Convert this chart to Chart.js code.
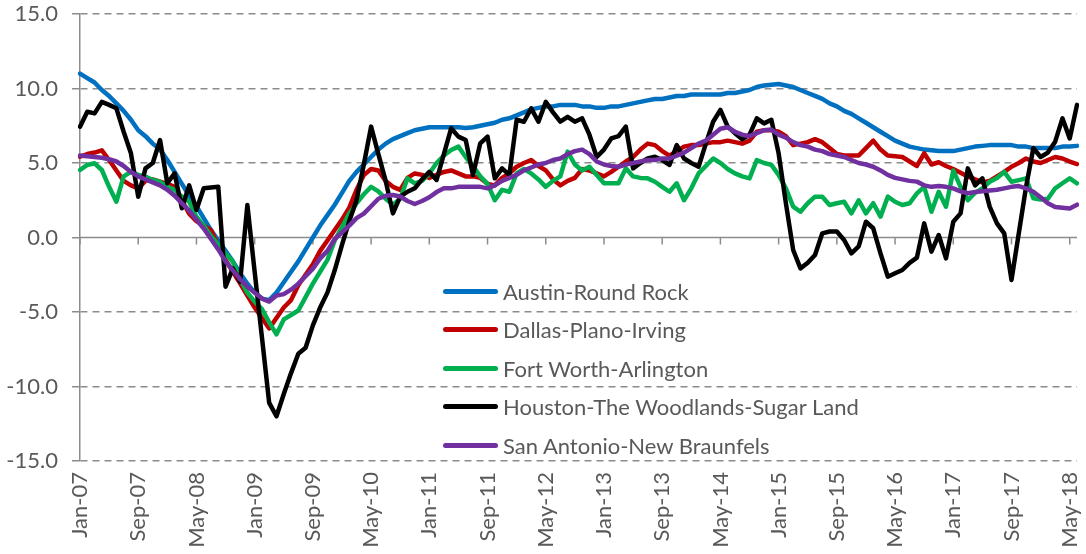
<!DOCTYPE html>
<html>
<head>
<meta charset="utf-8">
<script src="https://cdn.jsdelivr.net/npm/chart.js@4.4.1/dist/chart.umd.min.js"></script>
<style>
  html, body { margin: 0; padding: 0; background: #fff; }
  #wrap { position: relative; width: 1086px; height: 554px; }
  #legend { position: absolute; left: 443px; top: 272px; font-family: Lato, sans-serif; font-size: 22px; color: #595959; }
  .item { display: flex; align-items: center; height: 38.5px; white-space: nowrap; }
  .swatch { width: 55px; height: 5px; border-radius: 3px; margin-right: 5px; }
</style>
</head>
<body>
<div id="wrap">
  <canvas id="chart" width="1086" height="554"></canvas>
  <div id="legend"></div>
</div>
<script>
// monthly categories Jan-07 .. Jun-18
const monthNames = ['Jan', 'Feb', 'Mar', 'Apr', 'May', 'Jun', 'Jul', 'Aug', 'Sep', 'Oct', 'Nov', 'Dec'];
const months = [];
for (let y = 7; y <= 18; y++) {
  for (const m of monthNames) {
    if (months.length < 138) months.push(`${m}-${String(y).padStart(2, '0')}`);
  }
}

const yTicks = [-15, -10, -5, 0, 5, 10, 15];

const austin = [
  11.0, 10.7, 10.4, 9.9, 9.5, 9.0, 8.5, 7.9, 7.2, 6.8,
  6.3, 5.9, 5.2, 4.4, 3.6, 2.8, 2.1, 1.3, 0.5, -0.2,
  -0.9, -1.6, -2.4, -3.1, -3.7, -4.1, -4.2, -3.7, -3.0, -2.3,
  -1.6, -0.8, 0.0, 0.8, 1.5, 2.2, 3.0, 3.8, 4.4, 4.9,
  5.4, 5.9, 6.3, 6.6, 6.8, 7.0, 7.2, 7.3, 7.4, 7.4,
  7.4, 7.4, 7.4, 7.35, 7.4, 7.5, 7.6, 7.7, 7.9, 8.0,
  8.2, 8.4, 8.6, 8.7, 8.8, 8.8, 8.9, 8.9, 8.9, 8.8,
  8.8, 8.7, 8.7, 8.8, 8.8, 8.9, 9.0, 9.1, 9.2, 9.3,
  9.3, 9.4, 9.5, 9.5, 9.6, 9.6, 9.6, 9.6, 9.6, 9.7,
  9.7, 9.8, 9.9, 10.1, 10.2, 10.25, 10.3, 10.2, 10.1, 9.9,
  9.7, 9.5, 9.3, 9.0, 8.8, 8.5, 8.3, 8.0, 7.7, 7.4,
  7.1, 6.8, 6.5, 6.3, 6.1, 6.0, 5.9, 5.85, 5.8, 5.8,
  5.8, 5.9, 6.0, 6.1, 6.15, 6.2, 6.2, 6.2, 6.2, 6.1,
  6.1, 6.0, 6.0, 6.0, 6.0, 6.1, 6.1, 6.15
];

const dallas = [
  5.42, 5.6, 5.7, 5.85, 5.2, 4.5, 3.8, 3.5, 3.3, 3.8,
  3.9, 3.75, 3.6, 3.4, 2.5, 1.6, 1.1, 0.8, 0.5, -0.6,
  -1.5, -2.3, -3.07, -3.9, -4.7, -5.4, -6.1, -5.4, -4.7, -4.2,
  -3.2, -2.5, -1.8, -0.9, -0.2, 0.5, 1.2, 2.0, 3.2, 4.2,
  4.6, 4.5, 3.8, 3.4, 3.2, 4.0, 4.3, 4.2, 4.0, 4.2,
  4.4, 4.5, 4.3, 4.1, 4.1, 4.0, 3.6, 3.5, 4.0, 4.3,
  4.75, 5.0, 5.2, 4.8, 4.5, 3.9, 3.5, 3.8, 4.0, 4.6,
  4.5, 4.3, 4.1, 4.4, 4.75, 5.1, 5.4, 5.9, 6.3, 6.2,
  5.8, 5.5, 5.8, 6.1, 6.2, 6.2, 6.3, 6.4, 6.4, 6.5,
  6.4, 6.3, 6.5, 7.1, 7.2, 7.2, 7.1, 6.8, 6.2, 6.3,
  6.4, 6.6, 6.4, 6.0, 5.6, 5.5, 5.5, 5.5, 6.0, 6.5,
  5.9, 5.5, 5.45, 5.4, 5.1, 4.8, 5.65, 4.9, 5.05, 4.8,
  4.6, 4.35, 4.1, 3.9, 3.7, 3.8, 4.1, 4.4, 4.75, 5.0,
  5.3, 5.1, 5.0, 5.2, 5.4, 5.3, 5.1, 4.93
];

const fortWorth = [
  4.53, 4.87, 4.98, 4.53, 3.4, 2.4, 4.1, 4.4, 4.2, 4.1,
  3.86, 3.74, 3.4, 3.2, 2.74, 2.4, 1.4, 0.8, 0.1, -0.5,
  -1.1, -1.6, -2.8, -3.7, -4.3, -4.8, -5.7, -6.5, -5.5, -5.2,
  -4.9, -4.0, -3.1, -2.3, -1.5, -0.2, 0.7, 1.6, 2.3, 2.9,
  3.4, 3.1, 2.6, 2.2, 2.6, 3.97, 3.64, 3.8, 4.3, 5.0,
  5.5, 5.87, 6.1, 5.4, 4.8, 4.1, 3.6, 2.5, 3.2, 3.07,
  4.3, 4.6, 4.3, 3.9, 3.4, 3.8, 4.1, 5.76, 4.9, 4.5,
  4.75, 4.2, 3.64, 3.64, 3.64, 4.64, 4.1, 4.0, 3.97, 3.74,
  3.4, 3.07, 3.64, 2.5, 3.3, 4.3, 4.8, 5.3, 5.0, 4.6,
  4.3, 4.1, 3.97, 5.2, 5.0, 4.87, 4.2, 3.3, 2.07, 1.73,
  2.3, 2.74, 2.74, 2.18, 2.3, 2.4, 1.62, 2.5, 1.62, 2.3,
  1.4, 2.74, 2.4, 2.18, 2.3, 2.96, 3.4, 1.73, 3.07, 2.07,
  4.5, 3.4, 2.5, 3.0, 3.3, 3.74, 4.0, 4.4, 3.74, 3.85,
  3.97, 2.63, 2.55, 2.6, 3.3, 3.64, 3.97, 3.64
];

const houston = [
  7.44, 8.44, 8.33, 9.1, 8.9, 8.67, 7.1, 5.65, 2.74, 4.64,
  5.0, 6.54, 3.64, 4.3, 1.96, 3.5, 1.85, 3.3, 3.35, 3.4,
  -3.3, -2.07, -2.97, 2.18, -2.3, -6.7, -11.1, -12.0, -10.5, -9.1,
  -7.8, -7.4, -5.9, -4.7, -3.7, -2.2, -0.5, 1.1, 2.5, 4.9,
  7.44, 5.6, 3.8, 1.62, 2.74, 3.07, 3.3, 3.9, 4.4, 3.86,
  5.6, 7.33, 6.77, 6.54, 4.2, 6.32, 6.77, 3.97, 4.64, 4.2,
  7.9, 7.77, 8.67, 7.77, 9.1, 8.4, 7.77, 8.1, 7.77, 8.0,
  6.9, 5.4, 5.9, 6.65, 6.8, 7.44, 4.64, 5.0, 5.3, 5.42,
  5.2, 4.87, 6.2, 5.3, 5.0, 4.75, 6.3, 7.77, 8.56, 7.44,
  7.0, 6.6, 6.9, 8.0, 7.66, 7.9, 5.65, 2.3, -0.84, -2.07,
  -1.7, -1.17, 0.28, 0.4, 0.4, -0.17, -1.06, -0.6, 1.06, 0.62,
  -1.06, -2.63, -2.4, -2.18, -1.7, -1.35, 0.95, -0.95, 0.17, -1.4,
  1.06, 1.62, 4.64, 3.5, 3.97, 2.07, 0.95, 0.28, -2.85, 0.28,
  3.4, 6.0, 5.4, 5.7, 6.43, 8.0, 6.65, 8.9
];

const sanAntonio = [
  5.5, 5.45, 5.4, 5.35, 5.25, 5.1, 4.8, 4.4, 4.1, 3.9,
  3.7, 3.5, 3.2, 2.8, 2.3, 1.8, 1.2, 0.6, -0.1, -0.8,
  -1.6, -2.2, -2.8, -3.3, -3.7, -4.1, -4.3, -3.9, -3.8, -3.5,
  -3.1, -2.6, -2.1, -1.4, -0.9, -0.1, 0.35, 0.8, 1.3, 1.6,
  2.1, 2.6, 2.8, 2.85, 2.75, 2.45, 2.25, 2.45, 2.7, 3.05,
  3.3, 3.3, 3.4, 3.4, 3.4, 3.4, 3.3, 3.5, 3.8, 4.0,
  4.2, 4.5, 4.7, 4.9, 5.0, 5.2, 5.3, 5.6, 5.8, 5.9,
  5.6, 5.1, 4.9, 4.8, 4.75, 4.9, 5.0, 5.1, 5.2, 5.2,
  5.3, 5.3, 5.5, 5.7, 6.0, 6.3, 6.5, 6.9, 7.3, 7.4,
  7.1, 6.9, 6.8, 7.0, 7.2, 7.25, 6.9, 6.7, 6.4, 6.2,
  6.1, 5.9, 5.8, 5.6, 5.5, 5.4, 5.2, 5.0, 4.9, 4.75,
  4.5, 4.2, 4.0, 3.9, 3.8, 3.75, 3.5, 3.4, 3.45, 3.4,
  3.3, 3.1, 2.97, 3.05, 3.1, 3.15, 3.2, 3.3, 3.4, 3.45,
  3.3, 3.07, 2.7, 2.3, 2.05, 2.0, 1.95, 2.2
];

const seriesNames = [
  'Austin-Round Rock',
  'Dallas-Plano-Irving',
  'Fort Worth-Arlington',
  'Houston-The Woodlands-Sugar Land',
  'San Antonio-New Braunfels'
];
const seriesData = [austin, dallas, fortWorth, houston, sanAntonio];
const seriesColors = ['#0070C0', '#C00000', '#00B050', '#000000', '#7030A0'];

const axisGrey = '#8c8c8c';
const textGrey = '#595959';
const font = { family: 'Lato', size: 22 };

// zero line + small category tick marks hanging from it
const zeroAxis = {
  id: 'zeroAxis',
  beforeDatasetsDraw(chart) {
    const { ctx, chartArea, scales: { x, y } } = chart;
    const y0 = y.getPixelForValue(0);
    ctx.save();
    ctx.strokeStyle = axisGrey;
    ctx.lineWidth = 1.5;
    ctx.beginPath();
    ctx.moveTo(chartArea.left, y0);
    ctx.lineTo(chartArea.right, y0);
    months.forEach((m, i) => {
      if (i % 8 !== 0) return;
      const px = x.getPixelForValue(i);
      ctx.moveTo(px, y0);
      ctx.lineTo(px, y0 + 7);
    });
    ctx.stroke();
    ctx.restore();
  }
};

const ctx = document.getElementById('chart').getContext('2d');
new Chart(ctx, {
  type: 'line',
  data: {
    labels: months,
    datasets: seriesData.map((d, i) => ({
      label: seriesNames[i],
      data: d,
      borderColor: seriesColors[i],
      backgroundColor: seriesColors[i],
      borderWidth: 4.5,
      pointRadius: 0,
      tension: 0,
      borderCapStyle: 'round',
      borderJoinStyle: 'round',
      fill: false,
      order: seriesData.length - i,
    })),
  },
  options: {
    responsive: false,
    animation: false,
    layout: { padding: { top: 14, right: 9, bottom: 0, left: 0 } },
    plugins: {
      legend: { display: false },
      tooltip: { enabled: false },
    },
    scales: {
      x: {
        type: 'category',
        offset: false,
        grid: { display: false, drawTicks: false },
        border: { display: false },
        ticks: {
          autoSkip: false,
          minRotation: 90,
          maxRotation: 90,
          padding: 11,
          color: textGrey,
          font,
          callback: (v, i) => (i % 8 === 0 ? months[i] : ''),
        },
        afterFit: (s) => {
          s.height = 93;
          s.paddingLeft = 0;
          s.paddingRight = 0;
        },
      },
      y: {
        min: -15,
        max: 15,
        afterBuildTicks: (s) => { s.ticks = yTicks.map(v => ({ value: v })); },
        ticks: {
          padding: 14,
          color: textGrey,
          font,
          callback: (v) => Number(v).toFixed(1),
        },
        grid: {
          color: (c) => (c.tick && c.tick.value === 0 ? 'rgba(0,0,0,0)' : axisGrey),
          lineWidth: 1.5,
          tickLength: 8,
          tickColor: axisGrey,
        },
        border: { display: true, color: axisGrey, width: 1.5, dash: [7, 5] },
        afterFit: (s) => {
          s.width = 80;
          s.paddingTop = 0;
          s.paddingBottom = 0;
        },
      },
    },
  },
  plugins: [zeroAxis],
});

// legend drawn over the plot
const legend = document.getElementById('legend');
legend.innerHTML = seriesNames.map((name, i) => `
  <div class="item"><span class="swatch" style="background:${seriesColors[i]}"></span>${name}</div>
`).join('');
</script>
</body>
</html>
